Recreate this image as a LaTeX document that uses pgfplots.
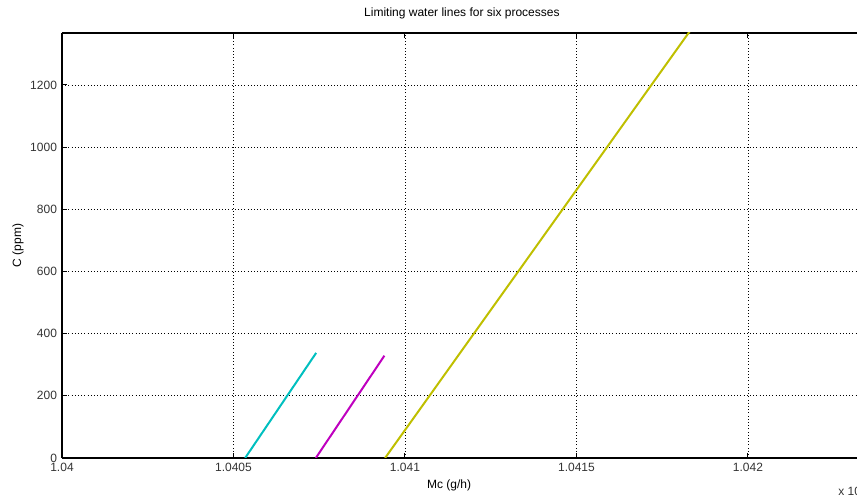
\documentclass[border=0pt]{standalone}
\usepackage{fontspec}
\setmainfont{Liberation Sans}
\usepackage{pgfplots}
\pgfplotsset{compat=1.18}

% MATLAB's older default colour order
\definecolor{mcyan}{rgb}{0,0.75,0.75}
\definecolor{mmagenta}{rgb}{0.75,0,0.75}
\definecolor{myellow}{rgb}{0.75,0.75,0}

\begin{document}
\begin{tikzpicture}
% frame of the (cropped) reference, in pt from the axis' lower left corner
\useasboundingbox (-31pt,-20pt) rectangle (397.5pt,229pt);
\begin{axis}[
    at={(0,0)}, anchor=south west,
    scale only axis, width=397.5pt, height=212.5pt,
    % x is Mc - 10400 g/h, labelled in units of 10^4 g/h
    % the reference is cropped on the right, so no right-hand axis line
    xmin=0, xmax=23.18, ymin=0, ymax=1367,
    axis x line=box, axis y line*=left,
    xtick={0,5,10,15,20},
    xticklabels={1.04,1.0405,1.041,1.0415,1.042},
    ytick={0,200,400,600,800,1000,1200},
    /pgf/number format/1000 sep={},
    tick align=inside, major tick length=2.5pt,
    tick style={black, line width=0.5pt},
    axis line style={black, line width=0.6pt, -},
    grid=major,
    major grid style={black, line width=0.4pt, dash pattern=on 0.4pt off 1.2pt},
    font=\fontsize{6}{7}\selectfont,
    /pgf/number format/assume math mode=true,
    ticklabel style={font=\fontsize{6}{7}\selectfont, text=black!80},
    x tick label style={yshift=1pt},
    y tick label style={xshift=1pt},
    title={Limiting water lines for six processes},
    title style={at={(axis description cs:0.503,1)}, anchor=center, yshift=4pt},
    xlabel={Mc (g/h)},
    xlabel style={at={(axis description cs:0.487,0)}, anchor=center, yshift=-13.5pt},
    clip mode=individual,
]
\addplot[mcyan, line width=1pt] coordinates {(5.34,0) (7.41,338)};
\addplot[mmagenta, line width=1pt] coordinates {(7.40,0) (9.40,329)};
\addplot[myellow, line width=1pt] coordinates {(9.42,0) (18.30,1372)};
\node[xshift=-22pt, rotate=90, anchor=center, font=\fontsize{6}{7}\selectfont, inner sep=0pt]
    at (axis description cs:0,0.5) {C (ppm)};
\node[anchor=west, font=\fontsize{6}{7}\selectfont, text=black!80, inner sep=0pt]
    at (axis description cs:0.976,-0.075) {x 10$^{4}$};
\end{axis}
\end{tikzpicture}
\end{document}
